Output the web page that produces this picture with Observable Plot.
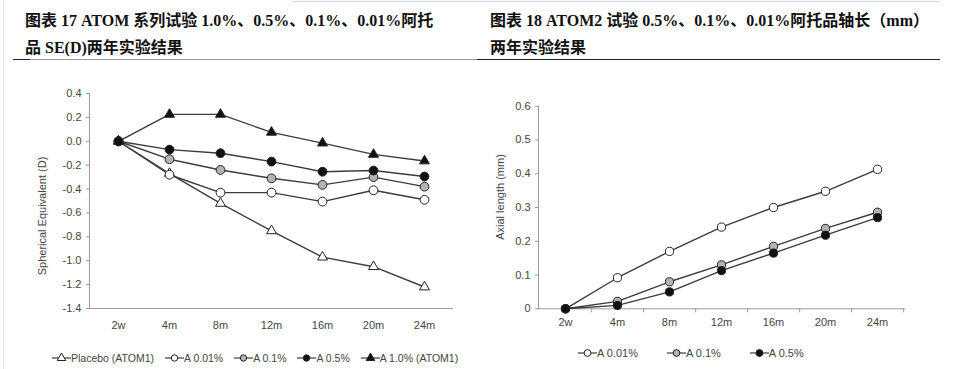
<!DOCTYPE html>
<html>
<head>
<meta charset="utf-8">
<script src="https://cdn.jsdelivr.net/npm/d3@7"></script>
<script src="https://cdn.jsdelivr.net/npm/@observablehq/plot@0.6"></script>
<style>
  html, body { margin: 0; padding: 0; background: #fff; }
  body { width: 954px; height: 369px; position: relative; overflow: hidden; }
  .title { position: absolute; font-family: "Liberation Serif", "Noto Sans CJK SC", serif; font-weight: bold; font-size: 16px; line-height: 20px; color: #111; white-space: nowrap; }
  .rule { position: absolute; height: 0; }
  .chart { position: absolute; top: 80px; }
  .legend { position: absolute; display: flex; align-items: center; font-family: "Liberation Sans", Arial, sans-serif; color: #444; white-space: nowrap; }
  .legend .item { display: flex; align-items: center; }
  .legend svg { display: block; }
</style>
</head>
<body>
<div style="position:absolute;left:292px;top:1px;width:648px;height:0;border-top:1.5px solid #c5d9ec"></div>
<div style="position:absolute;left:3px;top:0;width:0;height:369px;border-left:1px solid #e2e2e2"></div>

<div class="title" style="left:25px;top:11px">图表 17 ATOM 系列试验 1.0%、0.5%、0.1%、0.01%阿托</div>
<div class="title" style="left:25px;top:38px">品 SE(D)两年实验结果</div>
<div class="title" style="left:490px;top:11px">图表 18 ATOM2 试验 0.5%、0.1%、0.01%阿托品轴长（mm）</div>
<div class="title" style="left:490px;top:38px">两年实验结果</div>
<div class="rule" style="left:13px;top:59px;width:17px;border-top:1.5px solid #222"></div>
<div class="rule" style="left:30px;top:59px;width:447px;border-top:1.5px solid #999"></div>
<div class="rule" style="left:477px;top:59px;width:463px;border-top:1.5px solid #222"></div>

<div id="left" class="chart" style="left:0"></div>
<div id="right" class="chart" style="left:477px"></div>
<div id="legendLeft" class="legend" style="left:52px;top:352px;font-size:10.5px;gap:11px"></div>
<div id="legendRight" class="legend" style="left:578px;top:347px;font-size:11px;gap:29px"></div>

<script>
// ---------- data ----------
const categories = ["2w", "4m", "8m", "12m", "16m", "20m", "24m"];

// Chart 17: Spherical Equivalent (D)
const sePlacebo = [0, -0.27, -0.52, -0.75, -0.97, -1.05, -1.22];
const seA001    = [0, -0.28, -0.43, -0.43, -0.505, -0.41, -0.49];
const seA01     = [0, -0.15, -0.24, -0.31, -0.365, -0.30, -0.38];
const seA05     = [0, -0.07, -0.10, -0.17, -0.255, -0.245, -0.295];
const seA10     = [0, 0.225, 0.225, 0.075, -0.015, -0.11, -0.165];
const seTicks   = [0.4, 0.2, 0, -0.2, -0.4, -0.6, -0.8, -1.0, -1.2, -1.4];

// Chart 18: Axial length (mm)
const alA001 = [0, 0.092, 0.17, 0.242, 0.30, 0.348, 0.413];
const alA01  = [0, 0.022, 0.08, 0.13, 0.185, 0.238, 0.286];
const alA05  = [0, 0.01, 0.05, 0.113, 0.165, 0.218, 0.27];
const alTicks = [0, 0.1, 0.2, 0.3, 0.4, 0.5, 0.6];

const leftSeries = [
  {name: "Placebo (ATOM1)", values: sePlacebo, symbol: "triangle", fill: "#fff"},
  {name: "A 0.01%", values: seA001, symbol: "circle", fill: "#fff"},
  {name: "A 0.1%", values: seA01, symbol: "circle", fill: "#b3b3b3"},
  {name: "A 1.0% (ATOM1)", values: seA10, symbol: "triangle", fill: "#111"},
  {name: "A 0.5%", values: seA05, symbol: "circle", fill: "#111"}
];
const leftLegendOrder = ["Placebo (ATOM1)", "A 0.01%", "A 0.1%", "A 0.5%", "A 1.0% (ATOM1)"];

const rightSeries = [
  {name: "A 0.01%", values: alA001, symbol: "circle", fill: "#fff"},
  {name: "A 0.1%", values: alA01, symbol: "circle", fill: "#b3b3b3"},
  {name: "A 0.5%", values: alA05, symbol: "circle", fill: "#111"}
];

const LINE = "#3c3c3c";
const AXIS = "#9a9a9a";
const TEXT = "#444";

function rows(s) { return categories.map((c, i) => ({cat: c, value: s.values[i]})); }

function seriesMarks(list, r, rt) {
  const marks = [];
  for (const s of list) marks.push(Plot.line(rows(s), {x: "cat", y: "value", stroke: LINE, strokeWidth: 1.4}));
  for (const s of list) marks.push(Plot.dot(rows(s), {x: "cat", y: "value", symbol: s.symbol, fill: s.fill, stroke: "#222", strokeWidth: 1, r: s.symbol === "triangle" ? rt : r}));
  return marks;
}

// ---------- left chart ----------
const L = {width: 470, height: 260, marginLeft: 89, marginRight: 18, marginTop: 13, marginBottom: 32};
const leftPlot = Plot.plot({
  ...L,
  style: {fontFamily: "Liberation Sans, Arial, sans-serif", fontSize: "11px", color: TEXT, background: "transparent", overflow: "visible"},
  x: {type: "point", domain: categories, padding: 0.5},
  y: {domain: [-1.4, 0.4]},
  marks: [
    Plot.frame({anchor: "left", stroke: AXIS}),
    Plot.frame({anchor: "bottom", stroke: AXIS}),
    Plot.axisY({ticks: seTicks, tickFormat: d => d.toFixed(1), tickSize: 3, tickPadding: 5, stroke: AXIS, label: null, fill: TEXT}),
    Plot.axisX({tickSize: 0, tickPadding: 13, label: null, fill: TEXT}),
    Plot.text(["Spherical Equivalent (D)"], {frameAnchor: "left", textAnchor: "middle", rotate: -90, dx: -47, dy: 15, fill: TEXT, fontSize: 11}),
    ...seriesMarks(leftSeries, 4.4, 3.7)
  ]
});
document.getElementById("left").appendChild(leftPlot);

// ---------- right chart ----------
const R = {width: 477, height: 260, marginLeft: 61, marginRight: 50, marginTop: 25.7, marginBottom: 31.7};
const halfStep = (R.width - R.marginLeft - R.marginRight) / categories.length / 2;
const rightPlot = Plot.plot({
  ...R,
  style: {fontFamily: "Liberation Sans, Arial, sans-serif", fontSize: "11px", color: TEXT, background: "transparent", overflow: "visible"},
  x: {type: "point", domain: categories, padding: 0.5},
  y: {domain: [0, 0.6]},
  marks: [
    Plot.frame({anchor: "left", stroke: AXIS}),
    Plot.frame({anchor: "bottom", stroke: AXIS}),
    Plot.axisY({ticks: alTicks, tickFormat: d => d === 0 ? "0" : d.toFixed(1), tickSize: 3, tickPadding: 5, stroke: AXIS, label: null, fill: TEXT}),
    Plot.axisX({tickSize: 0, tickPadding: 9, label: null, fill: TEXT}),
    Plot.axisX({tickSize: 4, text: null, label: null, stroke: AXIS, dx: halfStep}),
    Plot.text(["Axial length (mm)"], {frameAnchor: "left", textAnchor: "middle", rotate: -90, dx: -38, dy: -10.5, fill: TEXT, fontSize: 11}),
    ...seriesMarks(rightSeries, 4.1, 3.7)
  ]
});
document.getElementById("right").appendChild(rightPlot);

// ---------- legends ----------
function swatch(s, w, r) {
  const ns = "http://www.w3.org/2000/svg";
  const svg = document.createElementNS(ns, "svg");
  svg.setAttribute("width", w); svg.setAttribute("height", 12);
  const line = document.createElementNS(ns, "line");
  line.setAttribute("x1", 0); line.setAttribute("x2", w); line.setAttribute("y1", 6); line.setAttribute("y2", 6);
  line.setAttribute("stroke", LINE); line.setAttribute("stroke-width", 1.2);
  svg.appendChild(line);
  const sym = s.symbol === "triangle" ? d3.symbolTriangle : d3.symbolCircle;
  const p = document.createElementNS(ns, "path");
  p.setAttribute("d", d3.symbol(sym, Math.PI * r * r)());
  p.setAttribute("transform", `translate(${w / 2},6)`);
  p.setAttribute("fill", s.fill); p.setAttribute("stroke", "#222"); p.setAttribute("stroke-width", 1);
  svg.appendChild(p);
  return svg;
}
function legend(el, list, w, r) {
  for (const s of list) {
    const item = document.createElement("div");
    item.className = "item";
    item.appendChild(swatch(s, w, r));
    const t = document.createElement("span");
    t.textContent = s.name;
    item.appendChild(t);
    el.appendChild(item);
  }
}
legend(document.getElementById("legendLeft"), leftLegendOrder.map(n => leftSeries.find(s => s.name === n)), 19, 3.2);
legend(document.getElementById("legendRight"), rightSeries, 19, 3.4);
</script>
</body>
</html>
